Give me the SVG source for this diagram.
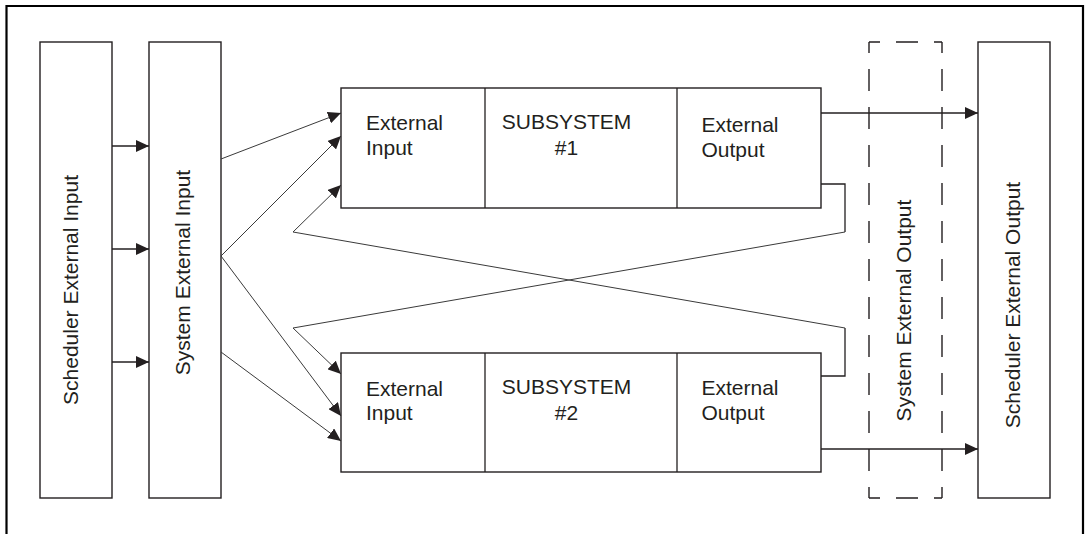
<svg xmlns="http://www.w3.org/2000/svg" width="1085" height="534" viewBox="0 0 1085 534">
<style>
.box{fill:#fff;stroke:#231f20;stroke-width:1.4}
.dash{fill:none;stroke:#231f20;stroke-width:1.4;stroke-dasharray:22 16;stroke-dashoffset:11}
.t{font-family:"Liberation Sans",Arial,sans-serif;font-size:21px;fill:#231f20}
.c{stroke:#231f20;stroke-width:1.3;fill:none}
.d{stroke:#3a3a3a;stroke-width:1;fill:none}
</style>
<defs>
<marker id="ah" viewBox="0 0 13 12" refX="13" refY="6" markerWidth="13" markerHeight="12" markerUnits="userSpaceOnUse" orient="auto">
<path d="M0,0 L13,6 L0,12 Z" fill="#231f20"/>
</marker>
</defs>
<rect width="1085" height="534" fill="#fff"/>
<path d="M6.5,534 V6 H1083 V534" fill="none" stroke="#000" stroke-width="2.2"/>

<g id="sched-in">
<rect class="box" x="40" y="42" width="72" height="456"/>
<text class="t" transform="translate(78,290) rotate(-90)" text-anchor="middle">Scheduler External Input</text>
</g>
<g id="sys-in">
<rect class="box" x="149" y="42" width="72" height="456"/>
<text class="t" transform="translate(190,272.5) rotate(-90)" text-anchor="middle">System External Input</text>
</g>
<g id="sub1">
<rect class="box" x="341" y="88" width="480" height="120"/>
<line class="c" x1="485" y1="88" x2="485" y2="208"/>
<line class="c" x1="677" y1="88" x2="677" y2="208"/>
<text class="t" x="366" y="130">External</text>
<text class="t" x="366" y="155">Input</text>
<text class="t" x="566.5" y="129" text-anchor="middle">SUBSYSTEM</text>
<text class="t" x="566.5" y="155" text-anchor="middle">#1</text>
<text class="t" x="701.5" y="132">External</text>
<text class="t" x="701.5" y="157">Output</text>
</g>
<g id="sub2">
<rect class="box" x="341" y="353" width="480" height="119"/>
<line class="c" x1="485" y1="353" x2="485" y2="472"/>
<line class="c" x1="677" y1="353" x2="677" y2="472"/>
<text class="t" x="366" y="396">External</text>
<text class="t" x="366" y="420">Input</text>
<text class="t" x="566.5" y="394" text-anchor="middle">SUBSYSTEM</text>
<text class="t" x="566.5" y="420" text-anchor="middle">#2</text>
<text class="t" x="701.5" y="395">External</text>
<text class="t" x="701.5" y="420">Output</text>
</g>
<g id="sys-out">
<line class="dash" x1="869" y1="42" x2="869" y2="498"/>
<line class="dash" x1="942" y1="42" x2="942" y2="498"/>
<line class="dash" x1="869" y1="42" x2="942" y2="42"/>
<line class="dash" x1="869" y1="498" x2="942" y2="498"/>
<text class="t" transform="translate(911,310.5) rotate(-90)" text-anchor="middle">System External Output</text>
</g>
<g id="sched-out">
<rect class="box" x="978" y="42" width="72" height="456"/>
<text class="t" transform="translate(1020,305) rotate(-90)" text-anchor="middle">Scheduler External Output</text>
</g>

<g id="connectors">
<line class="c" x1="112" y1="146" x2="149" y2="146" marker-end="url(#ah)"/>
<line class="c" x1="112" y1="249" x2="149" y2="249" marker-end="url(#ah)"/>
<line class="c" x1="112" y1="362" x2="149" y2="362" marker-end="url(#ah)"/>
<line class="d" x1="221" y1="159" x2="341" y2="113" marker-end="url(#ah)"/>
<line class="d" x1="221" y1="256" x2="341" y2="136" marker-end="url(#ah)"/>
<line class="d" x1="221" y1="256" x2="341" y2="416" marker-end="url(#ah)"/>
<line class="d" x1="221" y1="352" x2="341" y2="441" marker-end="url(#ah)"/>
<polyline class="c" points="821,184 845,184 845,232"/>
<polyline class="d" points="845,232 293,328 341,374" marker-end="url(#ah)"/>
<polyline class="c" points="821,376 845,376 845,328"/>
<polyline class="d" points="845,328 293,232 341,185" marker-end="url(#ah)"/>
<line class="c" x1="821" y1="113" x2="978" y2="113" marker-end="url(#ah)"/>
<line class="c" x1="821" y1="449" x2="978" y2="449" marker-end="url(#ah)"/>
</g>
</svg>
